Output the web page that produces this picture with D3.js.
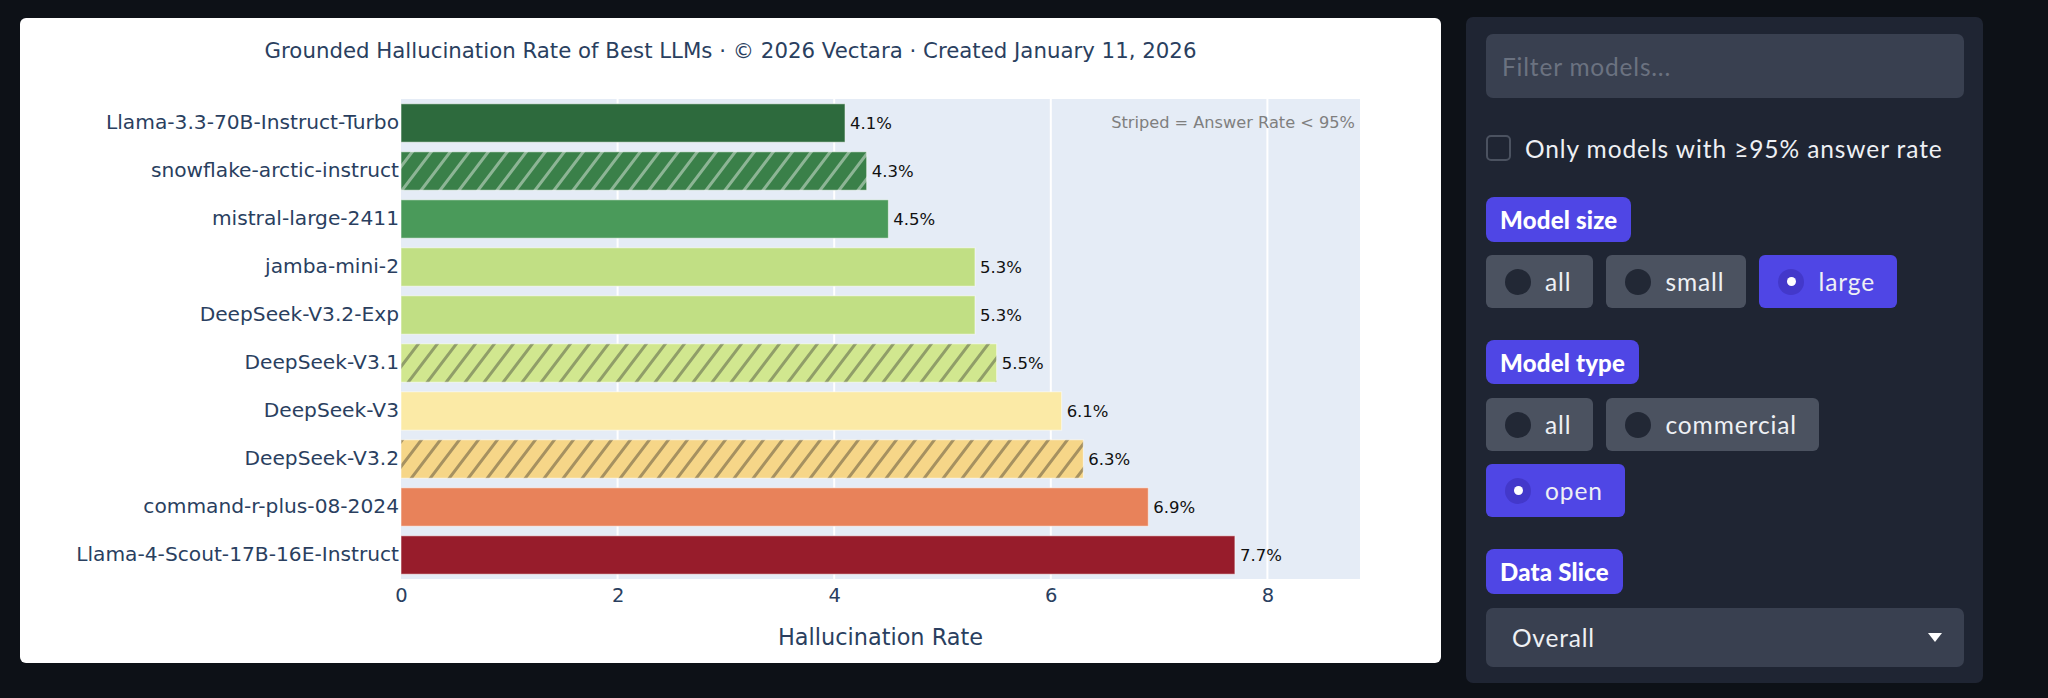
<!DOCTYPE html>
<html>
<head>
<meta charset="utf-8">
<script src="https://cdn.jsdelivr.net/npm/d3@7"></script>
<style>
  html, body { margin: 0; padding: 0; }
  body { width: 2048px; height: 698px; background: #0d1117; position: relative; overflow: hidden; font-family: Lato, "Open Sans", sans-serif; }
  #card { position: absolute; left: 20px; top: 18px; width: 1421px; height: 645px; background: #fff; border-radius: 6px; }
  #card svg { position: absolute; left: 0; top: 0; }
  #panel { position: absolute; left: 1466px; top: 17px; width: 517px; height: 666px; background: #1f2533; border-radius: 7px; }
  .abs { position: absolute; box-sizing: border-box; }
  .badge { background: #4f46e5; color: #fff; font-weight: 900; font-size: 24px; border-radius: 8px; display: flex; align-items: center; padding: 0 14px; letter-spacing: 0.2px; }
  .row { position: absolute; left: 20px; display: flex; gap: 13px; }
  .opt { height: 53px; background: #4b5260; color: #eef0f4; border-radius: 6px; display: flex; align-items: center; padding: 0 22px 0 19px; font-size: 24.5px; letter-spacing: 0.9px; box-sizing: border-box; }
  .opt.on { background: #4f46e5; }
  .dot { width: 26px; height: 26px; border-radius: 50%; background: #222835; margin-right: 14px; display: flex; align-items: center; justify-content: center; }
  .opt.on .dot { background: #4338ca; }
  .opt.on .dot::after { content: ""; width: 9px; height: 9px; border-radius: 50%; background: #fff; }
</style>
</head>
<body>
<div id="card"></div>
<div id="panel"></div>
<script>
const models = [
  'Llama-3.3-70B-Instruct-Turbo',
  'snowflake-arctic-instruct',
  'mistral-large-2411',
  'jamba-mini-2',
  'DeepSeek-V3.2-Exp',
  'DeepSeek-V3.1',
  'DeepSeek-V3',
  'DeepSeek-V3.2',
  'command-r-plus-08-2024',
  'Llama-4-Scout-17B-16E-Instruct'
];
const rates = [4.1, 4.3, 4.5, 5.3, 5.3, 5.5, 6.1, 6.3, 6.9, 7.7];
const lowAnswerRate = [false, true, false, false, false, true, false, true, false, false];
const barColors = ['#2d6a3d', '#3a8049', '#4a9a5a', '#c1df84', '#c1df84', '#d1e78f', '#fbeaa6', '#f6d688', '#e8825a', '#971c2b'];
const stripeColors = ['', 'rgba(255,255,255,0.42)', '', '', '', 'rgba(80,85,65,0.5)', '', 'rgba(85,75,55,0.5)', '', ''];
const xTicks = [0, 2, 4, 6, 8];

const titleText = 'Grounded Hallucination Rate of Best LLMs · © 2026 Vectara · Created January 11, 2026';
const noteText = 'Striped = Answer Rate < 95%';

const sizeOptions = ['all', 'small', 'large'];
const typeOptions = ['all', 'commercial', 'open'];
const sliceValue = 'Overall';

// ---- chart ----
const W = 1421, H = 645;
const plot = {left: 381, right: 1340, top: 81, bottom: 561};
const ink = '#2a3f5f';
const font = 'DejaVu Sans, Verdana, sans-serif';

const svg = d3.select('#card').append('svg')
  .attr('width', W)
  .attr('height', H)
  .style('font-family', font);

const x = d3.scaleLinear()
  .domain([0, d3.max(rates) * 1.15])
  .range([plot.left, plot.right]);
const y = d3.scaleBand()
  .domain(models)
  .range([plot.top, plot.bottom])
  .paddingInner(0.2)
  .paddingOuter(0.1);

// stripe patterns, "/" at about 53 degrees
const defs = svg.append('defs');
const pw = 19, ph = 25;
models.forEach((m, i) => {
  if (!lowAnswerRate[i]) return;
  const p = defs.append('pattern')
    .attr('id', `stripe-${i}`)
    .attr('patternUnits', 'userSpaceOnUse')
    .attr('width', pw)
    .attr('height', ph);
  p.append('rect').attr('width', pw).attr('height', ph).attr('fill', barColors[i]);
  p.append('path')
    .attr('d', `M0,${ph} L${pw},0 M${-pw / 4},${ph / 4} L${pw / 4},${-ph / 4} M${pw * 3 / 4},${ph * 5 / 4} L${pw * 5 / 4},${ph * 3 / 4}`)
    .attr('stroke', stripeColors[i])
    .attr('stroke-width', 3);
});

svg.append('rect')
  .attr('x', plot.left)
  .attr('y', plot.top)
  .attr('width', plot.right - plot.left)
  .attr('height', plot.bottom - plot.top)
  .attr('fill', '#e5ecf6');

// grid
svg.append('g')
  .selectAll('line')
  .data(xTicks.filter(d => d > 0))
  .join('line')
  .attr('x1', d => x(d)).attr('x2', d => x(d))
  .attr('y1', plot.top).attr('y2', plot.bottom)
  .attr('stroke', '#fff')
  .attr('stroke-width', 2);

// bars
svg.append('g')
  .selectAll('rect')
  .data(models)
  .join('rect')
  .attr('x', x(0))
  .attr('y', d => y(d))
  .attr('width', (d, i) => x(rates[i]) - x(0))
  .attr('height', y.bandwidth())
  .attr('fill', (d, i) => lowAnswerRate[i] ? `url(#stripe-${i})` : barColors[i])
  .attr('stroke', 'rgba(255,255,255,0.55)')
  .attr('stroke-width', 1);

// value labels
svg.append('g')
  .selectAll('text')
  .data(models)
  .join('text')
  .attr('x', (d, i) => x(rates[i]) + 5)
  .attr('y', d => y(d) + y.bandwidth() / 2)
  .attr('dy', '0.36em')
  .style('font-size', '16.5px')
  .style('fill', '#111')
  .text((d, i) => `${rates[i].toFixed(1)}%`);

// axes
const yAxis = svg.append('g')
  .attr('transform', `translate(${plot.left},0)`)
  .call(d3.axisLeft(y).tickSize(0).tickPadding(2));
yAxis.select('.domain').remove();
yAxis.selectAll('text')
  .style('font-family', font)
  .style('font-size', '20.2px')
  .style('fill', ink);

const xAxis = svg.append('g')
  .attr('transform', `translate(0,${plot.bottom})`)
  .call(d3.axisBottom(x).tickValues(xTicks).tickSize(0).tickPadding(9));
xAxis.select('.domain').remove();
xAxis.selectAll('text')
  .style('font-family', font)
  .style('font-size', '19.5px')
  .style('fill', ink);

svg.append('text')
  .attr('x', (plot.left + plot.right) / 2)
  .attr('y', 627)
  .attr('text-anchor', 'middle')
  .style('font-size', '22.4px')
  .style('fill', ink)
  .text('Hallucination Rate');

svg.append('text')
  .attr('x', W / 2)
  .attr('y', 40)
  .attr('text-anchor', 'middle')
  .style('font-size', '21.3px')
  .style('fill', ink)
  .text(titleText);

svg.append('text')
  .attr('x', plot.right - 5)
  .attr('y', 104)
  .attr('dy', '0.36em')
  .attr('text-anchor', 'end')
  .style('font-size', '16.2px')
  .style('fill', '#7f7f7f')
  .text(noteText);

// ---- side panel ----
const panel = d3.select('#panel');

panel.append('div').attr('class', 'abs')
  .style('left', '20px').style('top', '17px')
  .style('width', '478px').style('height', '64px')
  .style('background', '#394050').style('border-radius', '7px')
  .style('color', '#6b7280').style('font-size', '24.5px').style('letter-spacing', '0.8px')
  .style('display', 'flex').style('align-items', 'center').style('padding-left', '16px')
  .text('Filter models...');

panel.append('div').attr('class', 'abs')
  .style('left', '20px').style('top', '118px')
  .style('width', '25px').style('height', '26px')
  .style('border', '2px solid #4b5260').style('border-radius', '5px');
panel.append('div').attr('class', 'abs')
  .style('left', '59px').style('top', '116px').style('height', '30px')
  .style('display', 'flex').style('align-items', 'center')
  .style('color', '#eef0f4').style('font-size', '24.5px').style('letter-spacing', '0.9px')
  .style('white-space', 'nowrap')
  .text('Only models with ≥95% answer rate');

function badge(label, top, h) {
  panel.append('div').attr('class', 'abs badge')
    .style('left', '20px').style('top', `${top}px`).style('height', `${h}px`)
    .text(label);
}
function optionRow(labels, selected, top) {
  const row = panel.append('div').attr('class', 'row').style('top', `${top}px`);
  const opts = row.selectAll('div.opt')
    .data(labels)
    .join('div')
    .attr('class', d => d === selected ? 'opt on' : 'opt');
  opts.append('div').attr('class', 'dot');
  opts.append('span').text(d => d);
}

badge('Model size', 180, 45);
optionRow(sizeOptions, 'large', 238);
badge('Model type', 323, 44);
optionRow(typeOptions.slice(0, 2), null, 381);
optionRow(typeOptions.slice(2), 'open', 447);
badge('Data Slice', 532, 45);

const dd = panel.append('div').attr('class', 'abs')
  .style('left', '20px').style('top', '591px')
  .style('width', '478px').style('height', '59px')
  .style('background', '#394050').style('border-radius', '7px')
  .style('display', 'flex').style('align-items', 'center')
  .style('padding-left', '26px')
  .style('color', '#eef0f4').style('font-size', '24.5px').style('letter-spacing', '0.8px');
dd.append('span').text(sliceValue);
dd.append('svg')
  .style('position', 'absolute').style('left', '440px').style('top', '24px')
  .attr('width', 18).attr('height', 12)
  .append('path').attr('d', 'M2,1 L16,1 L9,10 Z').attr('fill', '#fff');
</script>
</body>
</html>
